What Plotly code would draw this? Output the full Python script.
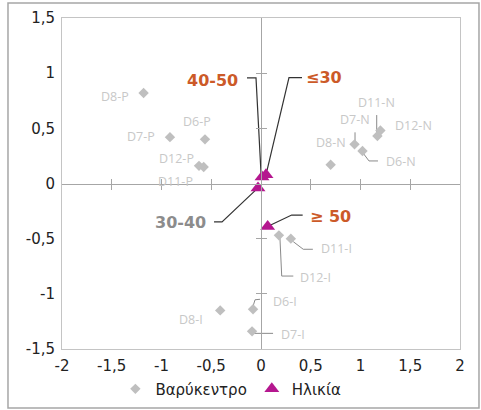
import plotly.graph_objects as go

# ---- data ----
centroid_names = ["D8-P", "D7-P", "D6-P", "D12-P", "D11-P",
                  "D11-N", "D12-N", "D7-N", "D8-N", "D6-N",
                  "D11-I", "D12-I", "D6-I", "D7-I", "D8-I"]
centroid_x = [-1.18, -0.915, -0.563, -0.623, -0.576,
              1.17, 1.20, 0.94, 0.70, 1.02,
              0.30, 0.18, -0.08, -0.09, -0.41]
centroid_y = [0.82, 0.42, 0.40, 0.16, 0.15,
              0.43, 0.48, 0.355, 0.17, 0.295,
              -0.50, -0.47, -1.14, -1.34, -1.15]

age_names = ["≤30", "40-50", "30-40", "≥ 50"]
age_x = [0.05, 0.01, -0.03, 0.067]
age_y = [0.08, 0.06, -0.04, -0.39]

x_tickvals = [-2, -1.5, -1, -0.5, 0, 0.5, 1, 1.5, 2]
x_ticktext = ["-2", "-1,5", "-1", "-0,5", "0", "0,5", "1", "1,5", "2"]
y_tickvals = [-1.5, -1, -0.5, 0, 0.5, 1, 1.5]
y_ticktext = ["-1,5", "-1", "-0,5", "0", "0,5", "1", "1,5"]
inner_x_ticks = [-1.5, -1, -0.5, 0.5, 1, 1.5]
inner_y_ticks = [-1, -0.5, 0.5, 1]

legend_names = ["Βαρύκεντρο", "Ηλικία"]

# ---- label styling: pixel offsets of label centre from its point ----
centroid_label_offset = {
    "D8-P": (-29, 3), "D7-P": (-29, -1), "D6-P": (-8, -18),
    "D12-P": (-23, -7), "D11-P": (-28, 15),
    "D11-N": (-1, -34), "D12-N": (33, -5), "D7-N": (0, -25),
    "D8-N": (0, -22), "D6-N": (39, 11),
    "D11-I": (46, 10), "D12-I": (37, 42), "D6-I": (32, -8),
    "D7-I": (41, 3), "D8-I": (-29, 9),
}
age_label_style = {
    "≤30": (58, -97, "#cc5a28"), "40-50": (-50, -96, "#cc5a28"),
    "30-40": (-78, 35, "#8c8c8c"), "≥ 50": (63, -10, "#cc5a28"),
}
# leader-line polylines in screen pixels relative to the point (y down)
centroid_leaders = {
    "D11-N": [(-0.7, -21), (-0.7, -3)],
    "D7-N": [(0.5, -12), (0.5, -3)],
    "D6-N": [(15.5, 10), (6.5, 10), (0.5, 2)],
    "D11-I": [(22, 10.6), (12.4, 10.6), (2.4, 3)],
    "D12-I": [(14.4, 40.7), (2.8, 40.7), (1, 2)],
    "D6-I": [(7, -10), (2, -9.5), (0, -3)],
    "D7-I": [(2, 2), (21, 2)],
}
age_leaders = {
    "40-50": [(-15, -99), (-6, -99), (-1, -4)],
    "≤30": [(36, -97), (23, -97), (1, -4)],
    "30-40": [(-44, 34), (-36, 34), (0, 0)],
    "≥ 50": [(35, -11.5), (24, -11.5), (2, -1)],
}

GRAY_PT = "#bfbfbf"
MAGENTA = "#b5178f"
AXIS_C = "#a6a6a6"
FONT = "DejaVu Sans"

fig = go.Figure()
fig.add_trace(go.Scatter(
    x=centroid_x, y=centroid_y, mode="markers", name=legend_names[0],
    marker=dict(symbol="diamond", size=8, color=GRAY_PT),
    text=centroid_names, hoverinfo="text+x+y"))
fig.add_trace(go.Scatter(
    x=age_x, y=age_y, mode="markers", name=legend_names[1],
    marker=dict(symbol="triangle-up", size=13, color=MAGENTA),
    text=age_names, hoverinfo="text+x+y"))
# dummy traces to host the crossing axes
for xa, ya in (("x2", "y2"), ("x3", "y3")):
    fig.add_trace(go.Scatter(x=[None], y=[None], xaxis=xa, yaxis=ya,
                             showlegend=False, hoverinfo="skip"))


def leader_shape(x, y, pts, color, width):
    path = "M " + " L ".join("%g,%g" % (px, -py) for px, py in pts)
    return dict(type="path", xref="x", yref="y", xsizemode="pixel",
                ysizemode="pixel", xanchor=x, yanchor=y, path=path,
                line=dict(color=color, width=width), layer="below")


annotations = []
shapes = []
for n, x, y in zip(centroid_names, centroid_x, centroid_y):
    dx, dy = centroid_label_offset[n]
    annotations.append(dict(
        x=x, y=y, xref="x", yref="y", text=n, showarrow=True,
        ax=dx, ay=dy, arrowcolor="rgba(0,0,0,0)",
        font=dict(family="Open Sans", size=12.5, color="#c8c8c8")))
    if n in centroid_leaders:
        shapes.append(leader_shape(x, y, centroid_leaders[n], "#8a8a8a", 1))
for n, x, y in zip(age_names, age_x, age_y):
    dx, dy, col = age_label_style[n]
    annotations.append(dict(
        x=x, y=y, xref="x", yref="y", text="<b>%s</b>" % n, showarrow=True,
        ax=dx, ay=dy, arrowcolor="rgba(0,0,0,0)",
        font=dict(family=FONT, size=16, color=col)))
    shapes.append(leader_shape(x, y, age_leaders[n], "#333333", 1.2))

shapes.append(dict(type="rect", xref="paper", yref="paper",
                   x0=-0.1357, x1=1.0477, y0=-0.178, y1=1.045,
                   line=dict(color="#a6a6a6", width=1.5), layer="below"))

common_cross = dict(showgrid=False, zeroline=False, showticklabels=False,
                    showline=True, linecolor=AXIS_C, linewidth=1,
                    ticklen=5, tickcolor=AXIS_C, tickwidth=1,
                    anchor="free", position=0.5)

fig.update_layout(
    width=481, height=410,
    margin=dict(l=62, r=21, t=18, b=61, autoexpand=False),
    paper_bgcolor="white", plot_bgcolor="white",
    font=dict(family=FONT, color="#222222"),
    xaxis=dict(range=[-2, 2], tickvals=x_tickvals, ticktext=x_ticktext,
               showgrid=False, zeroline=False, showline=True, mirror=True,
               linecolor="#c4c4c4", ticks="", ticklabelstandoff=3,
               tickfont=dict(family=FONT, size=15, color="#222222")),
    yaxis=dict(range=[-1.5, 1.5], tickvals=y_tickvals, ticktext=y_ticktext,
               showgrid=False, zeroline=False, showline=True, mirror=True,
               linecolor="#c4c4c4", ticks="", ticklabelstandoff=3,
               tickfont=dict(family=FONT, size=15, color="#222222")),
    xaxis2=dict(overlaying="x", matches="x", range=[-2, 2], ticks="outside",
                tickvals=inner_x_ticks, **common_cross),
    yaxis2=dict(overlaying="y", matches="y", range=[-1.5, 1.5], ticks="outside",
                tickvals=inner_y_ticks, **common_cross),
    xaxis3=dict(overlaying="x", matches="x", range=[-2, 2], ticks="inside",
                tickvals=inner_x_ticks, **common_cross),
    yaxis3=dict(overlaying="y", matches="y", range=[-1.5, 1.5], ticks="inside",
                tickvals=inner_y_ticks, **common_cross),
    legend=dict(orientation="h", xref="container", yref="container",
                x=0.48, xanchor="center", y=0.051, yanchor="middle",
                itemwidth=30, itemsizing="trace",
                font=dict(family=FONT, size=15, color="#222222"),
                bgcolor="rgba(0,0,0,0)"),
    annotations=annotations,
    shapes=shapes,
    showlegend=True,
)

fig.write_html("out.html", config={"displayModeBar": False},
               post_script="document.body.style.margin='0px';")
